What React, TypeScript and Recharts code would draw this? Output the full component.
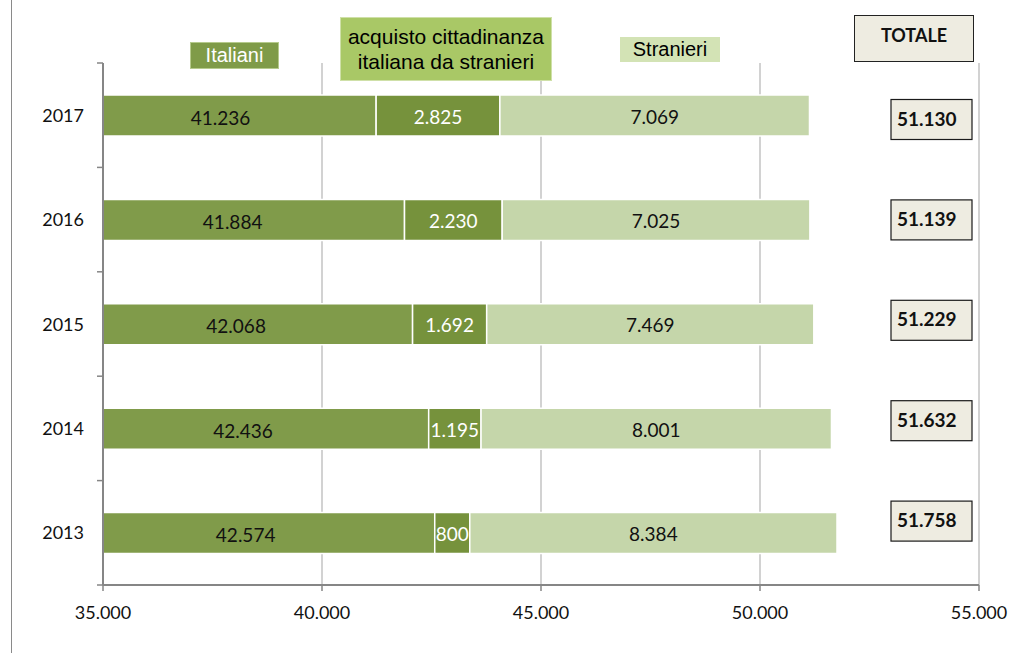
import { BarChart, Bar, XAxis, YAxis, CartesianGrid, LabelList } from 'recharts'

const years = ['2017', '2016', '2015', '2014', '2013']
const italiani = [41236, 41884, 42068, 42436, 42574]
const cittadinanza = [2825, 2230, 1692, 1195, 800]
const stranieri = [7069, 7025, 7469, 8001, 8384]
const totale = [51130, 51139, 51229, 51632, 51758]
const xTicks = [35000, 40000, 45000, 50000, 55000]

const data = years.map((year, i) => ({
  year,
  italiani: italiani[i],
  cittadinanza: cittadinanza[i],
  stranieri: stranieri[i],
  totale: totale[i],
}))

const W = 1012
const H = 653
const PLOT_LEFT = 103
const PLOT_TOP = 63
const PLOT_BOTTOM = 585
const BAND = (PLOT_BOTTOM - PLOT_TOP) / years.length
const AXIS = '#868686'
const FONT = 'Lato, "Open Sans", sans-serif'

const fmt = (v: number) => String(v).replace(/\B(?=(\d{3})+(?!\d))/g, '.')

const YearTick = (props: any) => {
  const { y, payload, index } = props
  return (
    <g>
      <text x={PLOT_LEFT - 19} y={y} dy={6.5} textAnchor="end" fontFamily={FONT} fontSize={18} fill="#111">
        {payload.value}
      </text>
      <line x1={PLOT_LEFT - 6} x2={PLOT_LEFT} y1={y - BAND / 2} y2={y - BAND / 2} stroke={AXIS} strokeWidth={1.5} />
      {index === years.length - 1 && (
        <line x1={PLOT_LEFT - 6} x2={PLOT_LEFT} y1={y + BAND / 2} y2={y + BAND / 2} stroke={AXIS} strokeWidth={1.5} />
      )}
    </g>
  )
}

const ItalianiLabel = (props: any) => {
  const { x, y, width, height, value } = props
  const right = x + width
  const cx = PLOT_LEFT + (right - PLOT_LEFT) * 0.43
  return (
    <text x={cx} y={y + height / 2} dy={9} textAnchor="middle" fontFamily={FONT} fontSize={19} fill="#111">
      {fmt(value)}
    </text>
  )
}

const CenterLabel = (color: string) => (props: any) => {
  const { x, y, width, height, value } = props
  return (
    <text x={x + width / 2} y={y + height / 2} dy={8} textAnchor="middle" fontFamily={FONT} fontSize={19} fill={color}>
      {fmt(value)}
    </text>
  )
}

const TotalBox = (props: any) => {
  const { y, height, value, index } = props
  const cy = y + height / 2 + 4 - index * 4
  return (
    <g>
      <rect x={891} y={cy - 20} width={81} height={40} fill="#EEECE1" stroke="#1a1a1a" strokeWidth={1.2} />
      <text x={897} y={cy} dy={6} fontFamily={FONT} fontWeight={700} fontSize={19} fill="#111">
        {fmt(value)}
      </text>
    </g>
  )
}

const box = (extra: any) => ({
  position: 'absolute' as const,
  display: 'flex',
  alignItems: 'center',
  justifyContent: 'center',
  textAlign: 'center' as const,
  fontFamily: '"Liberation Sans", Arial, sans-serif',
  boxSizing: 'border-box' as const,
  ...extra,
})

export default function App() {
  return (
    <div style={{ position: 'absolute', left: 0, top: 0, width: W, height: H, background: '#fff', overflow: 'hidden' }}>
      <div style={{ position: 'absolute', left: 11, top: 0, height: H, borderLeft: '1.5px solid #8a8a8a' }} />
      <BarChart
        width={W}
        height={H}
        data={data}
        layout="vertical"
        barSize={41}
        margin={{ top: PLOT_TOP, right: W - 979, bottom: H - PLOT_BOTTOM - 30, left: PLOT_LEFT - 60 }}
      >
        <CartesianGrid horizontal={false} stroke="#b4b4b4" strokeWidth={1.2} />
        <XAxis
          type="number"
          domain={[35000, 55000]}
          ticks={xTicks}
          allowDataOverflow
          height={30}
          tickFormatter={fmt}
          axisLine={{ stroke: AXIS, strokeWidth: 2 }}
          tickLine={{ stroke: AXIS, strokeWidth: 1.5 }}
          tickSize={6}
          tickMargin={15}
          tick={{ fontFamily: FONT, fontSize: 18, fill: '#111' }}
        />
        <YAxis
          type="category"
          dataKey="year"
          width={60}
          axisLine={{ stroke: AXIS, strokeWidth: 2 }}
          tickLine={false}
          tick={<YearTick />}
          interval={0}
        />
        <Bar dataKey="italiani" stackId="a" fill="#809B4A" stroke="#fff" strokeWidth={1.5} isAnimationActive={false}>
          <LabelList dataKey="italiani" content={<ItalianiLabel />} />
        </Bar>
        <Bar dataKey="cittadinanza" stackId="a" fill="#76923C" stroke="#fff" strokeWidth={1.5} isAnimationActive={false}>
          <LabelList dataKey="cittadinanza" content={CenterLabel('#fff')} />
        </Bar>
        <Bar dataKey="stranieri" stackId="a" fill="#C5D6AA" stroke="#fff" strokeWidth={1.5} isAnimationActive={false}>
          <LabelList dataKey="stranieri" content={CenterLabel('#111')} />
          <LabelList dataKey="totale" content={<TotalBox />} />
        </Bar>
      </BarChart>

      <div style={box({ left: 190, top: 42, width: 89, height: 27, background: '#7F9B48', border: '1px solid #b5ca8c', color: '#fff', fontSize: 20 })}>
        Italiani
      </div>
      <div style={box({ left: 340, top: 17, width: 212, height: 64, background: '#A9C866', border: '1px solid #cfe0a8', color: '#000', fontSize: 21, lineHeight: '25px' })}>
        acquisto cittadinanza
        <br />
        italiana da stranieri
      </div>
      <div style={box({ left: 620, top: 37, width: 100, height: 25, background: '#D3E3B5', color: '#000', fontSize: 20 })}>
        Stranieri
      </div>
      <div
        style={box({
          left: 854,
          top: 15,
          width: 120,
          height: 47,
          background: '#EEECE1',
          border: '1.5px solid #222',
          alignItems: 'flex-start',
          paddingTop: 8,
          fontFamily: FONT,
          fontWeight: 700,
          fontSize: 18,
          color: '#111',
        })}
      >
        TOTALE
      </div>
    </div>
  )
}
